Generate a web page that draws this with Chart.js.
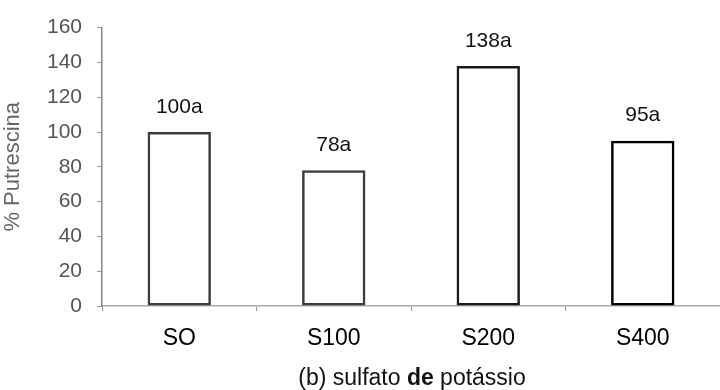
<!DOCTYPE html>
<html>
<head>
<meta charset="utf-8">
<script src="https://cdn.jsdelivr.net/npm/chart.js@4"></script>
<style>
  html, body { margin: 0; padding: 0; background: #fff; }
  #wrap { width: 720px; height: 390px; }
</style>
</head>
<body>
<div id="wrap"><canvas id="myChart" width="720" height="390"></canvas></div>
<script>
// data
const categories = ["SO", "S100", "S200", "S400"];
const putrescina = [100, 78, 138, 95];
const letters = ["a", "a", "a", "a"];
const yTicks = [0, 20, 40, 60, 80, 100, 120, 140, 160];

const FONT = "'Liberation Sans', Arial, sans-serif";

// value + letter above every bar
const barLabels = {
  id: "barLabels",
  afterDatasetsDraw(chart) {
    const ctx = chart.ctx;
    const meta = chart.getDatasetMeta(0);
    ctx.save();
    ctx.font = "21px " + FONT;
    ctx.fillStyle = "#111";
    ctx.textAlign = "center";
    ctx.textBaseline = "middle";
    meta.data.forEach((bar, i) => {
      ctx.fillText(putrescina[i] + letters[i], bar.x, bar.y - 25);
    });
    ctx.restore();
  }
};

// x axis title, "de" in bold
const xTitle = {
  id: "xTitle",
  afterDraw(chart) {
    const ctx = chart.ctx;
    const parts = [
      ["(b) sulfato ", "23px " + FONT],
      ["de", "bold 23px " + FONT],
      [" potássio", "23px " + FONT]
    ];
    ctx.save();
    ctx.fillStyle = "#111";
    ctx.textBaseline = "middle";
    let total = 0;
    parts.forEach(p => { ctx.font = p[1]; total += ctx.measureText(p[0]).width; });
    let x = 412 - total / 2;
    parts.forEach(p => {
      ctx.font = p[1];
      ctx.fillText(p[0], x, 379);
      x += ctx.measureText(p[0]).width;
    });
    ctx.restore();
  }
};

new Chart(document.getElementById("myChart"), {
  type: "bar",
  data: {
    labels: categories,
    datasets: [{
      data: putrescina,
      backgroundColor: "rgba(255,255,255,0)",
      borderColor: ["#3c3c3c", "#3c3c3c", "#1a1a1a", "#000"],
      borderWidth: 2.5,
      borderSkipped: false,
      barPercentage: 0.82,
      categoryPercentage: 0.5
    }]
  },
  options: {
    responsive: false,
    animation: false,
    layout: { padding: { top: 25, right: 0, left: 0, bottom: 0 } },
    plugins: {
      legend: { display: false },
      tooltip: { enabled: false }
    },
    scales: {
      x: {
        afterFit: s => { s.height = 84; },
        grid: { drawOnChartArea: false, tickLength: 5, color: "#999" },
        border: { color: "#aaa", dash: [5, 3], width: 1.5 },
        ticks: { color: "#000", font: { family: FONT, size: 23 }, padding: 14 }
      },
      y: {
        min: 0,
        max: 160,
        afterFit: s => { s.width = 102; },
        afterBuildTicks: s => { s.ticks = yTicks.map(v => ({ value: v })); },
        grid: { drawOnChartArea: false, tickLength: 5, color: "#999" },
        border: { color: "#888", width: 1.5 },
        ticks: { color: "#555", font: { family: FONT, size: 21 }, padding: 15 },
        title: {
          display: true,
          text: "% Putrescina",
          color: "#666",
          font: { family: FONT, size: 22 },
          padding: { top: 0, bottom: 4 }
        }
      }
    }
  },
  plugins: [barLabels, xTitle]
});
</script>
</body>
</html>
